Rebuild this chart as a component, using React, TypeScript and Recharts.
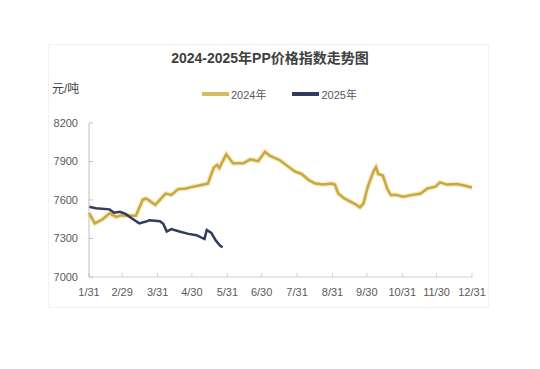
import React from "react";
import { LineChart, Line, XAxis, YAxis, Legend } from "recharts";

// x = days since 1/31
const tickDays = [0, 29, 60, 90, 121, 151, 182, 213, 243, 274, 304, 335];
const tickLabels = ["1/31", "2/29", "3/31", "4/30", "5/31", "6/30", "7/31", "8/31", "9/30", "10/31", "11/30", "12/31"];
const yTicks = [7000, 7300, 7600, 7900, 8200];

const days2024 = [0, 5, 12, 18, 24, 28, 41, 47, 50, 58, 67, 72, 78, 85, 91, 100, 104, 109, 112, 114, 120, 126, 135, 141, 148, 154, 158, 167, 174, 180, 186, 192, 198, 205, 212, 215, 218, 223, 229, 233, 237, 240, 244, 249, 251, 253, 257, 261, 264, 269, 275, 282, 290, 296, 303, 307, 313, 322, 328, 335];
const values2024 = [7500, 7418, 7450, 7496, 7468, 7480, 7478, 7602, 7612, 7562, 7650, 7640, 7685, 7690, 7704, 7720, 7728, 7850, 7874, 7850, 7956, 7886, 7886, 7917, 7903, 7975, 7945, 7910, 7862, 7822, 7803, 7756, 7728, 7720, 7728, 7720, 7650, 7614, 7586, 7567, 7543, 7572, 7708, 7826, 7855, 7803, 7791, 7685, 7638, 7638, 7626, 7638, 7650, 7690, 7704, 7737, 7720, 7725, 7713, 7697];

const days2025 = [0, 6, 18, 22, 27, 32, 37, 44, 49, 53, 62, 65, 68, 72, 79, 87, 94, 101, 103, 107, 111, 115, 117];
const values2025 = [7548, 7536, 7527, 7501, 7508, 7492, 7460, 7418, 7430, 7442, 7435, 7414, 7354, 7373, 7354, 7336, 7326, 7296, 7366, 7343, 7283, 7241, 7232];

const data2024 = days2024.map((d, i) => ({ d, v: values2024[i] }));
const data2025 = days2025.map((d, i) => ({ d, v: values2025[i] }));

const GOLD = "#c9a743";
const NAVY = "#2c3d5e";
const FONT = "'Liberation Sans', 'Noto Sans CJK SC', sans-serif";

const LegendBox = () => (
  <div style={{ display: "flex", justifyContent: "flex-start", fontSize: 11, color: "#595959", fontFamily: FONT }}>
    <span style={{ marginLeft: 202, display: "flex", alignItems: "center" }}>
      <span style={{ width: 27, height: 4, background: "#d6bb62", display: "inline-block", marginRight: 2 }} />
      2024年
    </span>
    <span style={{ marginLeft: 26, display: "flex", alignItems: "center" }}>
      <span style={{ width: 27, height: 4, background: NAVY, display: "inline-block", marginRight: 2 }} />
      2025年
    </span>
  </div>
);

const App: React.FC = () => {
  return (
    <div style={{ position: "absolute", left: 0, top: 0, width: 540, height: 369, background: "#fff", fontFamily: FONT }}>
      <div style={{ position: "absolute", left: 48, top: 44, width: 439, height: 262, border: "1px solid #f2f2f2" }} />
      <div style={{ position: "absolute", top: 47, left: 0, width: 540, textAlign: "center", fontSize: 14, fontWeight: 600, color: "#404040" }}>
        2024-2025年PP价格指数走势图
      </div>
      <div style={{ position: "absolute", top: 79, left: 52, fontSize: 12, color: "#404040" }}>元/吨</div>
      <LineChart
        width={540}
        height={369}
        data={data2024}
        margin={{ top: 107, right: 68, bottom: 62, left: 49 }}
      >
        <XAxis
          dataKey="d"
          type="number"
          domain={[0, 335]}
          ticks={tickDays}
          tickFormatter={(v: number) => tickLabels[tickDays.indexOf(v)]}
          interval={0}
          height={30}
          stroke="#d0d0d0"
          tickSize={-4}
          tickMargin={15}
          tick={{ fill: "#595959", fontSize: 11 }}
        />
        <YAxis
          type="number"
          domain={[7000, 8200]}
          ticks={yTicks}
          width={40}
          stroke="#bfbfbf"
          tickSize={-4}
          tickMargin={15}
          tick={{ fill: "#595959", fontSize: 11 }}
        />
        <Legend verticalAlign="top" wrapperStyle={{ top: 86, left: 0, width: 540 }} content={() => <LegendBox />} />
        <Line
          data={data2024}
          dataKey="v"
          name="2024年"
          type="linear"
          stroke="#f2e3a6"
          strokeWidth={5}
          strokeOpacity={0.7}
          dot={false}
          legendType="none"
          isAnimationActive={false}
        />
        <Line
          data={data2024}
          dataKey="v"
          name="2024年"
          type="linear"
          stroke={GOLD}
          strokeWidth={2.5}
          dot={false}
          isAnimationActive={false}
        />
        <Line
          data={data2025}
          dataKey="v"
          name="2025年"
          type="linear"
          stroke={NAVY}
          strokeWidth={2.5}
          dot={false}
          isAnimationActive={false}
        />
      </LineChart>
    </div>
  );
};

export default App;
